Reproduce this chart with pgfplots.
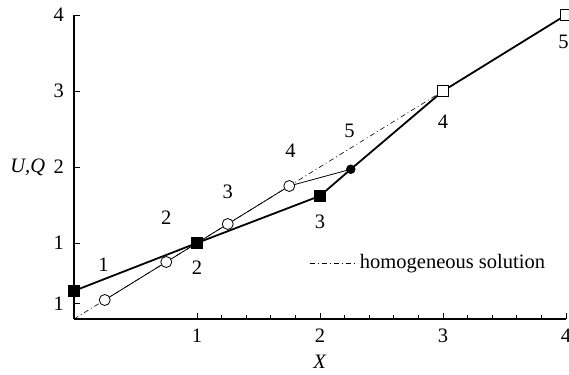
\documentclass[border=0pt]{standalone}
\usepackage{pgfplots}
\pgfplotsset{compat=1.18}
\usepackage{fontspec}
\setmainfont{Liberation Serif}
\begin{document}
\fontsize{20.5}{23}\selectfont
\begin{tikzpicture}
\useasboundingbox (-74pt,-55pt) rectangle (495pt,319pt);
\begin{axis}[
  scale only axis, width=492pt, height=304pt,
  xmin=0, xmax=4, ymin=0, ymax=4,
  axis x line=bottom, axis y line=left,
  axis line style={-, line width=1.3pt},
  tick align=inside,
  xtick={1,2,3,4}, ytick={0.2,1,2,3,4},
  yticklabels={1,1,2,3,4},
  minor x tick num=4, minor y tick num=4,
  major tick length=6pt, minor tick length=4pt,
  every tick/.style={black, line width=0.8pt},
  /pgf/number format/assume math mode=true,
  tick label style={font=\fontsize{20.5}{23}\selectfont},
  xticklabel style={yshift=-3pt},
  yticklabel style={xshift=-3pt},
  xlabel={\textit{X}}, ylabel={\textit{U,Q}},
  label style={font=\fontsize{20.5}{23}\selectfont},
  xlabel style={at={(axis description cs:0.5,-0.141)}, anchor=center},
  ylabel style={at={(axis description cs:-0.094,0.5)}, anchor=center, rotate=-90},
  clip=false,
  legend style={draw=none, fill=none, at={(axis description cs:0.478,0.184)}, anchor=west, font=\fontsize{20.5}{23}\selectfont, inner sep=0pt},
  legend cell align=left,
  legend image code/.code={\draw[#1] (0pt,0pt) -- (48pt,0pt);},
]
\addplot[black, line width=0.6pt, dash pattern=on 5pt off 3pt on 1pt off 3pt] coordinates {(0,0) (4,4)};
\addlegendentry{homogeneous solution}
\addplot[black, line width=0.8pt, forget plot] coordinates {(0.25,0.25) (0.75,0.75) (1,1) (1.25,1.25) (1.75,1.75) (2.25,1.97)};
\addplot[black, line width=1.8pt, forget plot] coordinates {(0,0.37) (1,1) (2,1.62) (2.25,1.97) (3,3) (4,4)};
\addplot[only marks, mark=*, mark size=5.5pt, mark options={fill=white, draw=black, line width=0.8pt}, forget plot] coordinates {(0.25,0.25) (0.75,0.75) (1.25,1.25) (1.75,1.75)};
\addplot[only marks, mark=square*, mark size=5.5pt, mark options={fill=black, draw=black}, forget plot] coordinates {(0,0.37) (1,1) (2,1.62)};
\addplot[only marks, mark=*, mark size=4.5pt, mark options={fill=black, draw=black}, forget plot] coordinates {(2.25,1.97)};
\addplot[only marks, mark=square*, mark size=5.5pt, mark options={fill=white, draw=black, line width=0.8pt}, forget plot] coordinates {(3,3) (4,4)};
\node at (axis cs:0.24,0.71) {1};
\node at (axis cs:0.75,1.33) {2};
\node at (axis cs:1.0,0.67) {2};
\node at (axis cs:1.25,1.68) {3};
\node at (axis cs:1.76,2.21) {4};
\node at (axis cs:2.0,1.28) {3};
\node at (axis cs:2.24,2.47) {5};
\node at (axis cs:3.0,2.59) {4};
\node at (axis cs:3.98,3.64) {5};
\end{axis}
\end{tikzpicture}
\end{document}
